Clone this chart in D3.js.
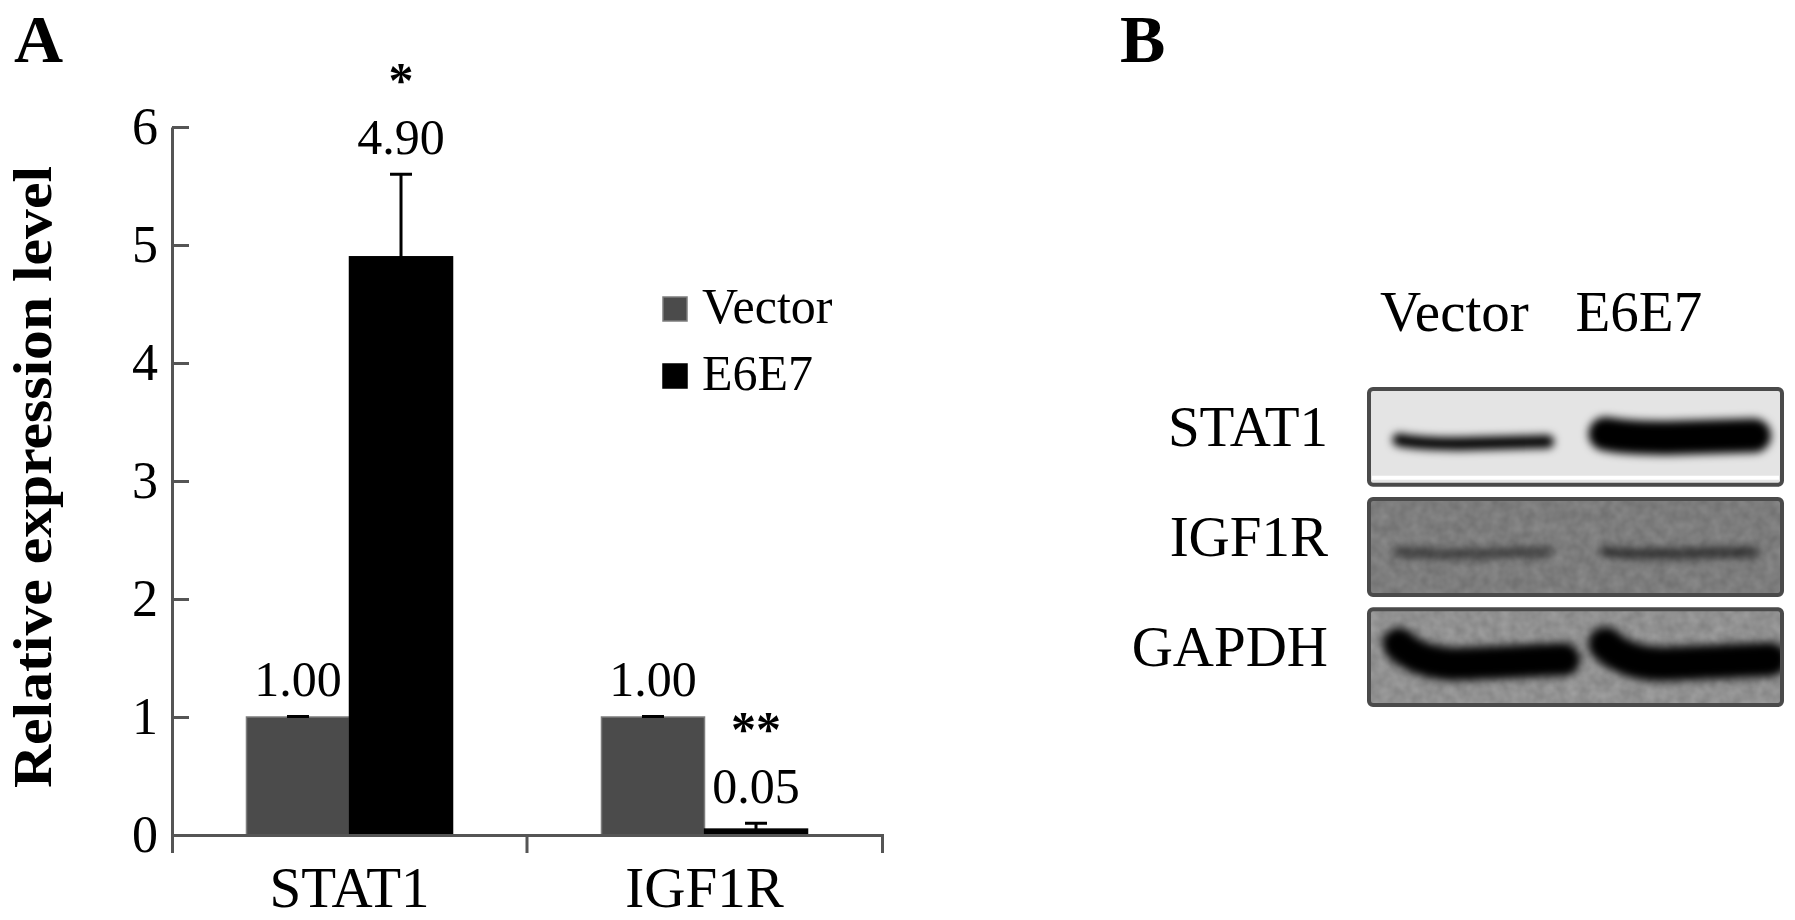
<!DOCTYPE html>
<html><head><meta charset="utf-8">
<script src="https://cdn.jsdelivr.net/npm/d3@7/dist/d3.min.js"></script>
<style>body{margin:0;background:#fff}</style>
</head><body>
<svg id="chart" width="1795" height="920"></svg>
<script>
// ---------- data ----------
const categories = ["STAT1", "IGF1R"];
const seriesNames = ["Vector", "E6E7"];
const vectorValues = [1.00, 1.00];
const e6e7Values = [4.90, 0.05];
const vectorErrors = [0.005, 0.005];
const e6e7Errors = [0.70, 0.05];
const significance = ["*", "**"];
const yTicks = [0, 1, 2, 3, 4, 5, 6];
const yTitle = "Relative expression level";
const blotProteins = ["STAT1", "IGF1R", "GAPDH"];
const blotLanes = ["Vector", "E6E7"];
const stat1Bands = [0.2, 1.0];   // relative band intensity (Vector, E6E7)
const igf1rBands = [0.05, 0.08];
const gapdhBands = [0.95, 1.0];

// ---------- setup ----------
const svg = d3.select("#chart");
const serif = "'Liberation Serif','Times New Roman',serif";
const seriesColor = d3.scaleOrdinal().domain(seriesNames).range(["#4b4b4b", "#000000"]);
const seriesStroke = d3.scaleOrdinal().domain(seriesNames).range(["#7d7d7d", "#000000"]);

const rows = categories.map((c, i) => ({
  cat: c,
  sig: significance[i],
  bars: [
    {s: "Vector", v: vectorValues[i], e: vectorErrors[i]},
    {s: "E6E7", v: e6e7Values[i], e: e6e7Errors[i]}
  ]
}));

// ---------- panel A ----------
const x0 = d3.scaleBand().domain(categories).range([172, 882]).paddingInner(0).paddingOuter(0);
const x1 = d3.scaleBand().domain(seriesNames).range([0, x0.bandwidth()]).paddingInner(0).paddingOuter(0.723);
const y = d3.scaleLinear().domain([0, 6]).range([835, 127]);
const fmt = d3.format(".2f");

const gA = svg.append("g");

// bars
const catG = gA.selectAll("g.cat").data(rows).join("g")
  .attr("class", "cat")
  .attr("transform", d => `translate(${x0(d.cat)},0)`);

catG.selectAll("rect").data(d => d.bars).join("rect")
  .attr("x", d => x1(d.s))
  .attr("width", x1.bandwidth())
  .attr("y", d => y(d.v))
  .attr("height", d => y(0) - y(d.v))
  .attr("fill", d => seriesColor(d.s))
  .attr("stroke", d => seriesStroke(d.s))
  .attr("stroke-width", 1.5);

// error bars
const capW = 22;
catG.selectAll("path.err").data(d => d.bars).join("path")
  .attr("class", "err")
  .attr("d", d => {
    const cx = x1(d.s) + x1.bandwidth() / 2;
    const yt = y(d.v + d.e);
    return `M${cx},${y(d.v)}V${yt}M${cx - capW / 2},${yt}H${cx + capW / 2}`;
  })
  .attr("fill", "none").attr("stroke", "#000").attr("stroke-width", 3);

// value labels
catG.selectAll("text.val").data(d => d.bars).join("text")
  .attr("class", "val")
  .attr("x", d => x1(d.s) + x1.bandwidth() / 2)
  .attr("y", d => y(d.v + d.e) - 20)
  .attr("text-anchor", "middle")
  .attr("font-family", serif).attr("font-size", 50)
  .text(d => fmt(d.v));

// significance stars
catG.append("text")
  .attr("x", d => x1("E6E7") + x1.bandwidth() / 2)
  .attr("y", d => y(d.bars[1].v + d.bars[1].e) - 20 - 57)
  .attr("text-anchor", "middle")
  .attr("font-family", serif).attr("font-size", 50).attr("font-weight", "bold")
  .text(d => d.sig);

// y axis
const yAxis = d3.axisLeft(y).tickValues(yTicks).tickSizeInner(-17).tickSizeOuter(0)
  .tickPadding(14).tickFormat(d3.format("d"));
const gy = gA.append("g").attr("transform", "translate(172,0)").call(yAxis);
gy.selectAll("path,line").attr("stroke", "#555").attr("stroke-width", 3);
gy.selectAll("text").attr("font-family", serif).attr("font-size", 52).attr("fill", "#000");

// x axis
const xAxis = d3.axisBottom(x0).tickSizeInner(0).tickSizeOuter(18).tickPadding(32);
const gx = gA.append("g").attr("transform", `translate(0,${y(0)})`).call(xAxis);
gx.selectAll("path,line").attr("stroke", "#555").attr("stroke-width", 3);
gx.selectAll("text").attr("font-family", serif).attr("font-size", 57).attr("fill", "#000");
gx.selectAll("line.sep").data(categories.slice(1)).join("line")
  .attr("class", "sep")
  .attr("x1", d => x0(d)).attr("x2", d => x0(d))
  .attr("y1", 0).attr("y2", 18)
  .attr("stroke", "#555").attr("stroke-width", 3);

// y title
gA.append("text")
  .attr("transform", `translate(51,${(y(0) + y(6)) / 2 - 4}) rotate(-90)`)
  .attr("text-anchor", "middle")
  .attr("font-family", serif).attr("font-size", 54).attr("font-weight", "bold")
  .attr("textLength", 622).attr("lengthAdjust", "spacingAndGlyphs")
  .text(yTitle);

// legend
const leg = gA.selectAll("g.leg").data(seriesNames).join("g")
  .attr("class", "leg")
  .attr("transform", (d, i) => `translate(663,${297 + i * 67})`);
leg.append("rect").attr("width", 24).attr("height", 24)
  .attr("fill", d => seriesColor(d)).attr("stroke", d => seriesStroke(d)).attr("stroke-width", 1.5);
leg.append("text").attr("x", 39).attr("y", 26)
  .attr("font-family", serif).attr("font-size", 50).text(d => d);

// panel letters
svg.append("text").attr("x", 14).attr("y", 62)
  .attr("font-family", serif).attr("font-size", 68).attr("font-weight", "bold").text("A");
svg.append("text").attr("x", 1120).attr("y", 62)
  .attr("font-family", serif).attr("font-size", 68).attr("font-weight", "bold").text("B");

// ---------- panel B (western blot) ----------
const defs = svg.append("defs");
const blur = defs.append("filter").attr("id", "bandBlur")
  .attr("filterUnits", "userSpaceOnUse")
  .attr("x", 0).attr("y", 0).attr("width", 1795).attr("height", 920);
blur.append("feGaussianBlur").attr("stdDeviation", 4);
const noise = defs.append("filter").attr("id", "noise");
noise.append("feTurbulence").attr("type", "fractalNoise").attr("baseFrequency", 0.09)
  .attr("numOctaves", 2).attr("seed", 3);
noise.append("feColorMatrix").attr("type", "matrix")
  .attr("values", "0 0 0 0 0  0 0 0 0 0  0 0 0 0 0  0 0 0 0.22 0");
noise.append("feComposite").attr("in2", "SourceGraphic").attr("operator", "in");

const rowY = d3.scaleBand().domain(blotProteins).range([389, 705]).paddingInner(0.13);
const laneX = d3.scaleBand().domain(blotLanes).range([1369, 1782]);
const bandData = {STAT1: stat1Bands, IGF1R: igf1rBands, GAPDH: gapdhBands};
const bgColor = d3.scaleOrdinal().domain(blotProteins).range(["#e4e4e4", "#8c8c8c", "#a3a3a3"]);
const curve = d3.scaleOrdinal().domain(blotProteins).range([2, 0, 18]);

const gB = svg.append("g");
const blot = gB.selectAll("g.blot").data(blotProteins).join("g").attr("class", "blot");

const clip = defs.selectAll("clipPath").data(blotProteins).join("clipPath")
  .attr("id", d => "clip-" + d);
clip.append("rect")
  .attr("x", laneX.range()[0]).attr("y", d => rowY(d))
  .attr("width", laneX.range()[1] - laneX.range()[0]).attr("height", rowY.bandwidth())
  .attr("rx", 4);

const inner = blot.append("g").attr("clip-path", d => `url(#clip-${d})`);

inner.append("rect")
  .attr("x", laneX.range()[0]).attr("y", d => rowY(d))
  .attr("width", laneX.range()[1] - laneX.range()[0]).attr("height", rowY.bandwidth())
  .attr("fill", d => bgColor(d));
inner.filter(d => d !== "STAT1").append("rect")
  .attr("x", laneX.range()[0]).attr("y", d => rowY(d))
  .attr("width", laneX.range()[1] - laneX.range()[0]).attr("height", rowY.bandwidth())
  .attr("fill", "#fff").attr("filter", "url(#noise)");
inner.filter(d => d === "STAT1").append("line")
  .attr("x1", laneX.range()[0] + 3).attr("x2", laneX.range()[1] - 3)
  .attr("y1", d => rowY(d) + rowY.bandwidth() - 7).attr("y2", d => rowY(d) + rowY.bandwidth() - 7)
  .attr("stroke", "#fff").attr("stroke-width", 4);

inner.selectAll("path.band")
  .data(p => bandData[p].map((v, i) => ({p, lane: blotLanes[i], v})))
  .join("path")
  .attr("class", "band")
  .attr("d", d => {
    const c = curve(d.p);
    const xa = laneX(d.lane) + 30;
    const xb = laneX(d.lane) + laneX.bandwidth() - (c > 5 ? 12 : 28);
    const cy = rowY(d.p) + rowY.bandwidth() / 2 + 5 - (d.v > 0.9 && d.p === "STAT1" ? 6 : 0);
    return `M${xa},${cy - c}Q${xa + 20},${cy + 2} ${xa + 60},${cy + 2}L${xb},${cy - c * 0.15}`;
  })
  .attr("fill", "none")
  .attr("stroke", "#000")
  .attr("stroke-linecap", "round")
  .attr("stroke-width", d => 8 + 26 * d.v)
  .attr("stroke-opacity", d => Math.min(1, 0.4 + 3 * d.v))
  .attr("filter", "url(#bandBlur)");

blot.append("rect")
  .attr("x", laneX.range()[0]).attr("y", d => rowY(d))
  .attr("width", laneX.range()[1] - laneX.range()[0]).attr("height", rowY.bandwidth())
  .attr("rx", 4).attr("fill", "none").attr("stroke", "#4a4a4a").attr("stroke-width", 4);

// protein labels
blot.append("text")
  .attr("x", 1328).attr("y", d => rowY(d) + rowY.bandwidth() / 2 + 9)
  .attr("text-anchor", "end")
  .attr("font-family", serif).attr("font-size", 57).text(d => d);

// lane labels
gB.selectAll("text.lane").data(blotLanes).join("text")
  .attr("class", "lane")
  .attr("x", d => laneX(d) + (d === "Vector" ? 11 : 0))
  .attr("y", 331)
  .attr("font-family", serif).attr("font-size", 57).text(d => d);
</script>
</body></html>
